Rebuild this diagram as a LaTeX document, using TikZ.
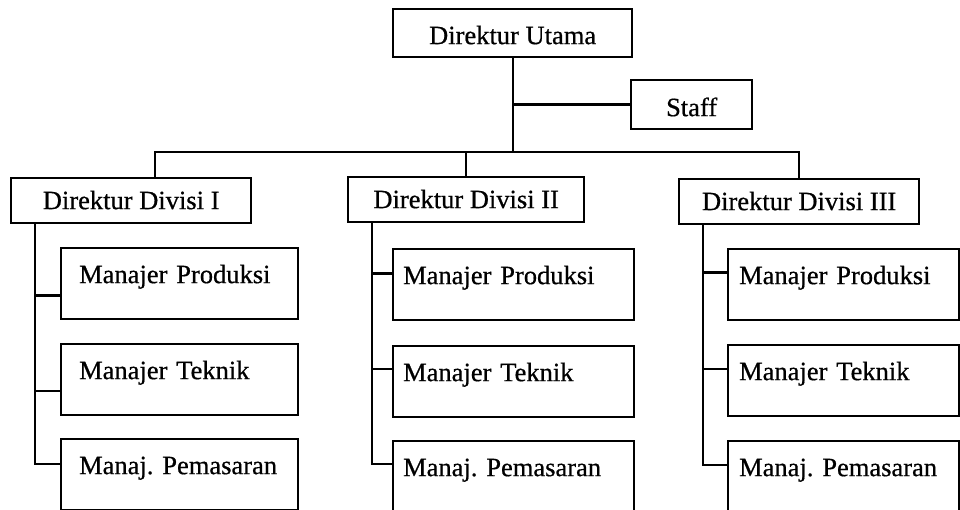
\documentclass[tikz,border=0pt]{standalone}
\usepackage{fontspec}
\setmainfont{Liberation Serif}[FakeBold=0.6]
\begin{document}
\begin{tikzpicture}[x=1pt,y=-1pt,
  line width=2.3pt,
  every node/.style={font=\fontsize{26.5}{30}\selectfont,
    execute at begin node={\frenchspacing\hyphenpenalty=10000}},
  topbox/.style={draw, anchor=north west, inner sep=0pt, align=center},
  divbox/.style={draw, anchor=north west, inner sep=0pt, minimum width=#1, text height=31pt, text depth=14pt},
  mbox/.style 2 args={draw, anchor=north west, inner ysep=0pt, inner xsep=#1, text width=#2, align=left, text height=35pt, text depth=36pt}
]
\useasboundingbox (0,0) rectangle (960,510);

% top
\node[topbox, minimum width=239pt, text height=35pt, text depth=13pt] (du) at (392,8) {Direktur Utama};
\node[topbox, minimum width=121pt, text height=36pt, text depth=13pt] (staff) at (630,79) {Staff};

% division directors
\node[divbox=240pt] (d1) at (10,177) {Direktur Divisi I};
\node[divbox=236pt] (d2) at (347,176) {Direktur Divisi II};
\node[divbox=240pt] (d3) at (678,178) {Direktur Divisi III};

% managers, division I
\node[mbox={18pt}{201pt}] (m11) at (60,247) {Manajer Produksi};
\node[mbox={18pt}{201pt}] (m12) at (60,343) {Manajer Teknik};
\node[mbox={18pt}{201pt}] (m13) at (60,438) {Manaj. Pemasaran};
% managers, division II
\node[mbox={10pt}{221pt}] (m21) at (392,248) {Manajer Produksi};
\node[mbox={10pt}{221pt}] (m22) at (392,345) {Manajer Teknik};
\node[mbox={10pt}{221pt}] (m23) at (392,440) {Manaj. Pemasaran};
% managers, division III
\node[mbox={11pt}{209pt}] (m31) at (727,248) {Manajer Produksi};
\node[mbox={11pt}{209pt}] (m32) at (727,344) {Manajer Teknik};
\node[mbox={11pt}{209pt}] (m33) at (727,440) {Manaj. Pemasaran};

% bus coordinates
\coordinate (busL) at (155,152);
\coordinate (busR) at (799,152);
\coordinate (dudown) at (513,152);

% top connectors
\draw (du.south -| dudown) -- (dudown);
\draw (staff.west) -- (staff.west -| dudown);
\draw (busL |- d1.north) -- (busL) -- (busR) -- (busR |- d3.north);
\draw (d2.north) -- (d2.north |- busL);

% spines and branch points
\coordinate (s1) at ([xshift=25pt]d1.south west);
\coordinate (s2) at ([xshift=25pt]d2.south west);
\coordinate (s3) at ([xshift=25pt]d3.south west);

\coordinate (b11) at ([yshift=-12pt]m11.west);
\coordinate (b12) at ([yshift=-11pt]m12.west);
\coordinate (b13) at ([yshift=11pt]m13.west);
\coordinate (b21) at ([yshift=11pt]m21.west);
\coordinate (b22) at ([yshift=13pt]m22.west);
\coordinate (b23) at ([yshift=13pt]m23.west);
\coordinate (b31) at ([yshift=12pt]m31.west);
\coordinate (b32) at ([yshift=12pt]m32.west);
\coordinate (b33) at ([yshift=12pt]m33.west);

\draw (s1) |- (b13);
\draw (s1 |- b11) -- (b11);
\draw (s1 |- b12) -- (b12);

\draw (s2) |- (b23);
\draw (s2 |- b21) -- (b21);
\draw (s2 |- b22) -- (b22);

\draw (s3) |- (b33);
\draw (s3 |- b31) -- (b31);
\draw (s3 |- b32) -- (b32);
\end{tikzpicture}
\end{document}
